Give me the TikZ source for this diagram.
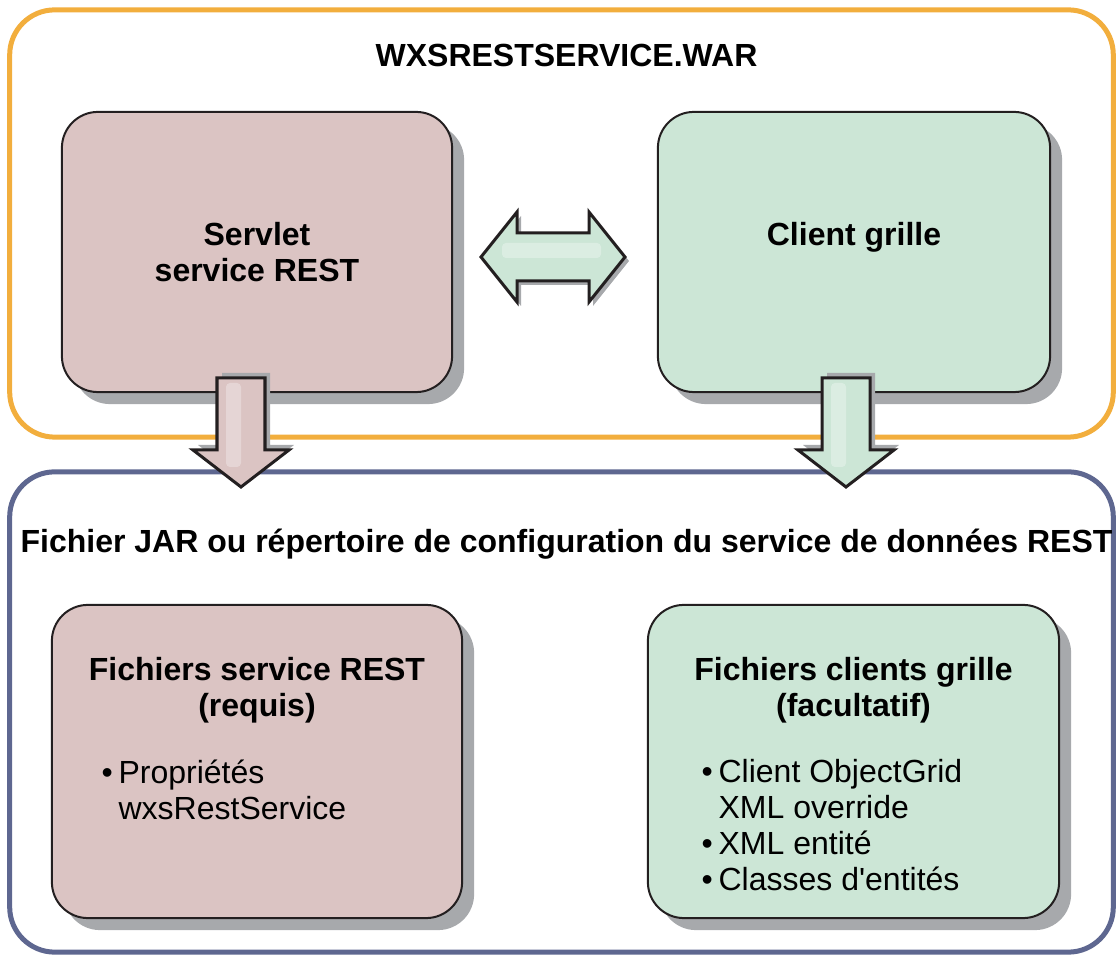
\documentclass[tikz,border=0pt]{standalone}
\usepackage{fontspec}
\setmainfont{Liberation Sans}
\usepackage{xcolor}
\usetikzlibrary{positioning,shadows}
\definecolor{warline}{HTML}{F2AE3D}
\definecolor{jarline}{HTML}{5E6790}
\definecolor{rest}{HTML}{DBC4C3}
\definecolor{grid}{HTML}{CCE6D6}
\definecolor{shade}{HTML}{A7A9AC}
\definecolor{ink}{HTML}{231F20}
\newcommand{\dotitem}{\makebox[0.17cm][l]{•}}
\newcommand{\noitem}{\makebox[0.17cm]{}}

\begin{document}
\begin{tikzpicture}[x=0.01cm, y=-0.01cm,
  frame/.style={draw=#1, line width=0.05cm, rounded corners=0.45cm, minimum width=11.03cm},
  box/.style={draw=ink, line width=0.02cm, rounded corners=0.36cm, fill=#1,
    drop shadow={shadow xshift=0.12cm, shadow yshift=-0.12cm, fill=shade, opacity=1}},
  head/.style={font=\bfseries\fontsize{9.1}{10.2}\selectfont, align=center, inner sep=0pt},
  items/.style={font=\fontsize{9.1}{10.2}\selectfont, align=left, inner sep=0pt},
  fat/.style={fill=#1, draw=ink, line width=0.03cm, line join=miter},
  glint/.style={fill=white, opacity=0.3, rounded corners=0.04cm}]
\useasboundingbox (0,0) rectangle (1117,955);

% outer frames
\node[frame=warline, minimum height=4.27cm] (war) at (561.5,223.5) {};
\node[frame=jarline, minimum height=4.8cm] (jar) at (561.5,712) {};
\node[head, below=0.365cm of war.north, xshift=0.05cm] (wartitle) {WXSRESTSERVICE.WAR};
\node[head, below=0.59cm of jar.north, xshift=0.05cm] (jartitle) {Fichier JAR ou répertoire de configuration du service de données REST};

% boxes
\node[box=rest, minimum width=3.9cm, minimum height=2.8cm] (servlet) at (257,252) {};
\node[box=grid, minimum width=3.92cm, minimum height=2.8cm] (client) at (854,252) {};
\node[box=rest, minimum width=4.1cm, minimum height=3.13cm] (restfiles) at (257,761.5) {};
\node[box=grid, minimum width=4.11cm, minimum height=3.13cm] (gridfiles) at (853.5,761.5) {};

% fat arrows
\coordinate (swap) at (553,257);
\coordinate (servletdown) at (241,378);
\coordinate (clientdown) at (846,378);
\begin{scope}[shift={(swap)}]
  \filldraw[fat=grid, drop shadow={shadow xshift=0.04cm, shadow yshift=-0.04cm, fill=shade, opacity=1}]
    (-72,0) -- (-36,-45) -- (-36,-24) -- (36,-24) -- (36,-45) -- (72,0)
    -- (36,45) -- (36,24) -- (-36,24) -- (-36,45) -- cycle;
  \fill[glint] (-51,-14) rectangle (48,1);
\end{scope}
\foreach \spot/\tint in {servletdown/rest, clientdown/grid}{
  \begin{scope}[shift={(\spot)}]
    \filldraw[fat=\tint, drop shadow={shadow xshift=0.05cm, shadow yshift=0.05cm, fill=shade, opacity=1}]
      (-24,0) -- (24,0) -- (24,72) -- (48,72) -- (0,109) -- (-48,72) -- (-24,72) -- cycle;
    \fill[glint] (-15,5) rectangle (0,89);
  \end{scope}
}

% texts
\node[head, below=1.11cm of servlet.north] (servlettext) {Servlet\\service REST};
\node[head, below=1.11cm of client.north] (clienttext) {Client grille};
\node[head, below=0.53cm of restfiles.north] (resthead) {Fichiers service REST\\(requis)};
\node[head, below=0.53cm of gridfiles.north] (gridhead) {Fichiers clients grille\\(facultatif)};
\node[items, below right=1.55cm and 0.5cm of restfiles.north west] (restlist)
  {\dotitem Propriétés\\\noitem wxsRestService};
\node[items, below right=1.55cm and 0.54cm of gridfiles.north west] (gridlist)
  {\dotitem Client ObjectGrid\\\noitem XML override\\\dotitem XML entité\\\dotitem Classes d\textquotesingle entités};
\end{tikzpicture}
\end{document}
